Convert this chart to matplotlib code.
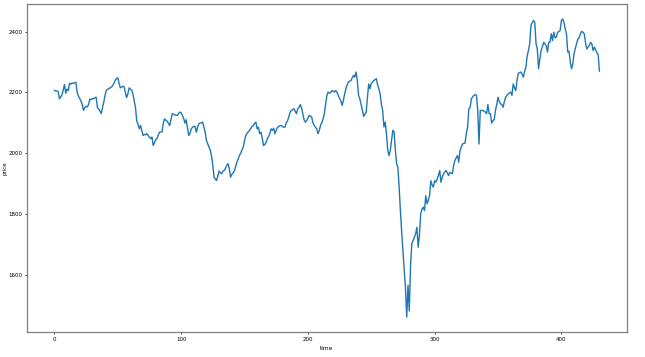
import matplotlib
matplotlib.use("Agg")
import matplotlib.pyplot as plt
import numpy as np

# price readings, one per time step (0..430)
price = [
    2207, 2205, 2205, 2203, 2179, 2185, 2192, 2208, 2226, 2197,
    2211, 2206, 2230, 2227, 2231, 2229, 2232, 2233, 2200, 2188,
    2180, 2172, 2160, 2141, 2150, 2154, 2152, 2160, 2178, 2176,
    2180, 2179, 2182, 2184, 2149, 2146, 2138, 2130, 2150, 2168,
    2190, 2207, 2210, 2212, 2215, 2218, 2222, 2230, 2240, 2245,
    2248, 2232, 2215, 2217, 2220, 2219, 2200, 2183, 2195, 2215,
    2210, 2208, 2195, 2173, 2150, 2107, 2095, 2080, 2091, 2075,
    2058, 2062, 2060, 2064, 2058, 2052, 2048, 2053, 2025, 2035,
    2045, 2048, 2060, 2069, 2070, 2070, 2100, 2113, 2108, 2105,
    2098, 2091, 2110, 2130, 2128, 2126, 2125, 2124, 2130, 2135,
    2133, 2124, 2115, 2099, 2110, 2085, 2058, 2065, 2080, 2085,
    2088, 2088, 2069, 2085, 2097, 2099, 2100, 2102, 2085, 2069,
    2041, 2030, 2020, 2010, 1990, 1960, 1921, 1915, 1910, 1925,
    1941, 1935, 1932, 1940, 1943, 1950, 1960, 1965, 1950, 1921,
    1930, 1935, 1941, 1955, 1970, 1980, 1992, 2000, 2010, 2019,
    2040, 2058, 2065, 2070, 2075, 2082, 2088, 2091, 2098, 2102,
    2080, 2085, 2064, 2069, 2050, 2025, 2028, 2035, 2047, 2055,
    2064, 2080, 2075, 2082, 2064, 2075, 2085, 2088, 2090, 2091,
    2088, 2085, 2086, 2100, 2107, 2120, 2135, 2141, 2143, 2146,
    2138, 2130, 2146, 2150, 2160, 2149, 2130, 2110, 2102, 2107,
    2115, 2124, 2122, 2119, 2100, 2091, 2085, 2080, 2064, 2075,
    2091, 2100, 2113, 2130, 2162, 2190, 2201, 2197, 2200, 2206,
    2204, 2201, 2206, 2200, 2190, 2180, 2173, 2157, 2173, 2195,
    2212, 2225, 2234, 2237, 2239, 2248, 2256, 2250, 2267, 2239,
    2190, 2179, 2160, 2141, 2121, 2128, 2135, 2184, 2228, 2212,
    2230, 2234, 2239, 2242, 2245, 2225, 2212, 2195, 2160, 2141,
    2086, 2102, 2064, 2010, 1992, 2008, 2041, 2075, 2070, 2010,
    1965, 1954, 1888, 1810, 1740, 1680, 1620, 1555, 1460, 1565,
    1480, 1630, 1701, 1712, 1723, 1734, 1756, 1690, 1728, 1800,
    1815, 1822, 1811, 1860, 1833, 1845, 1860, 1909, 1895, 1888,
    1909, 1904, 1915, 1926, 1943, 1904, 1920, 1932, 1938, 1943,
    1935, 1926, 1937, 1934, 1932, 1960, 1976, 1985, 1992, 1970,
    2008, 2020, 2030, 2032, 2033, 2064, 2086, 2146, 2150, 2179,
    2185, 2190, 2193, 2190, 2141, 2030, 2141, 2140, 2141, 2138,
    2135, 2130, 2160, 2130, 2130, 2099, 2107, 2110, 2141, 2160,
    2184, 2170, 2162, 2160, 2151, 2170, 2184, 2190, 2195, 2198,
    2201, 2190, 2228, 2215, 2206, 2240, 2263, 2265, 2267, 2260,
    2250, 2270, 2283, 2320, 2338, 2360, 2420, 2430, 2437, 2431,
    2360, 2343, 2278, 2310, 2338, 2350, 2365, 2360, 2354, 2333,
    2365, 2365, 2393, 2371, 2398, 2380, 2382, 2398, 2400, 2404,
    2437, 2442, 2431, 2409, 2393, 2333, 2336, 2300, 2278, 2294,
    2327, 2345, 2360, 2376, 2380, 2393, 2401, 2398, 2393, 2365,
    2343, 2349, 2355, 2365, 2360, 2338, 2349, 2340, 2330, 2325,
    2270,
]
time = np.arange(len(price))

fig = plt.figure(figsize=(6.45, 3.57), dpi=100)
ax = fig.add_axes([0.042, 0.070, 0.9296, 0.9188])

ax.plot(time, price, color="#1f77b4", lw=1.0)

ax.set_xlabel("time", fontsize=4.2, labelpad=3)
ax.set_ylabel("price", fontsize=4.0)
# sits right at the left edge, as in the reference
ax.yaxis.set_label_coords(-0.033, 0.5)

ax.tick_params(labelsize=4.0, length=1.6, width=0.5, pad=1.8)
for s in ax.spines.values():
    s.set_color("#7f7f7f")
    s.set_linewidth(0.9)

fig.savefig("out.png", dpi=100)
